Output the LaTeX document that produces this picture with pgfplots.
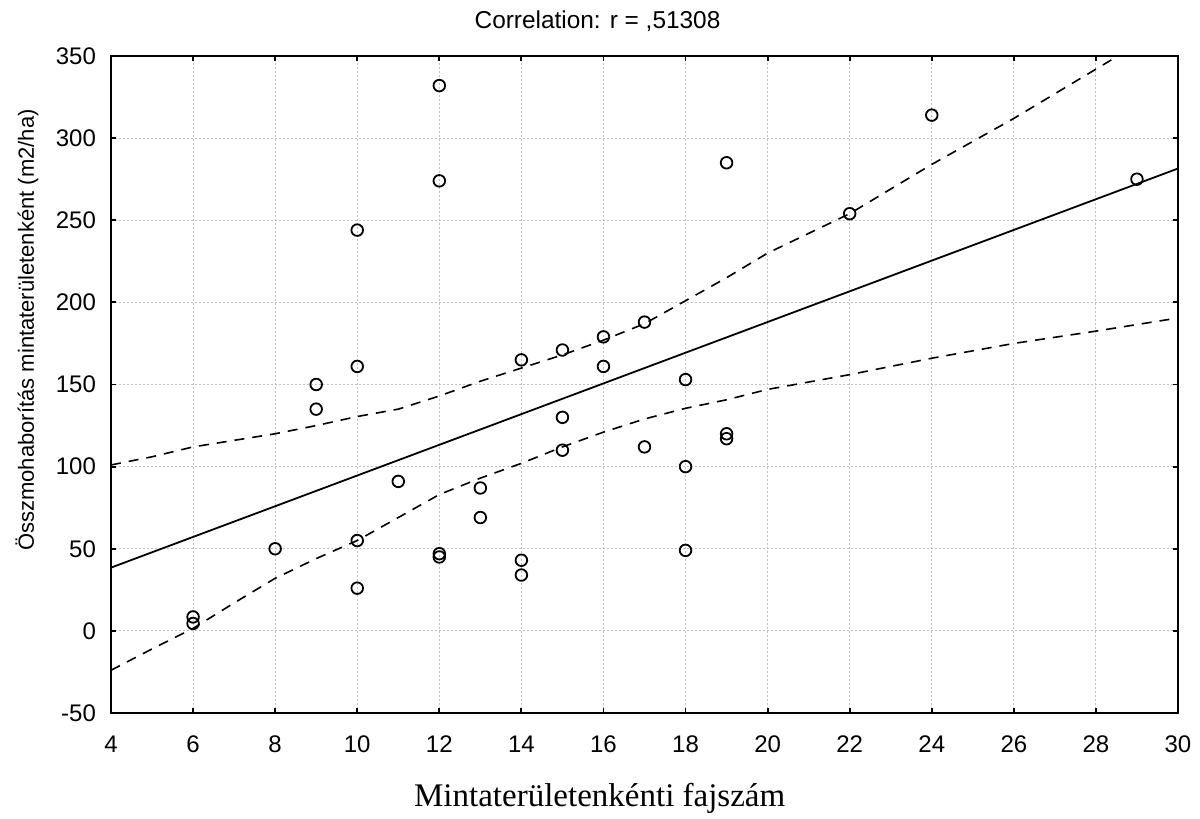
\documentclass[border=0pt]{standalone}
\usepackage{fontspec}
\setmainfont{Liberation Sans}
\newfontfamily\seriffont{Liberation Serif}
\usepackage{pgfplots}
\pgfplotsset{compat=1.18}

\begin{document}
\begin{tikzpicture}
\begin{axis}[
  name=ax,
  scale only axis,
  width=533.5pt, height=328.5pt,
  xmin=4, xmax=30, ymin=-50, ymax=350,
  xtick={4,6,...,30}, ytick={-50,0,...,350},
  tick align=inside, tick pos=both,
  major tick length=2.5pt,
  tick style={black, line width=0.9pt},
  axis line style={black, line width=1pt},
  grid=major,
  major grid style={gray!50, line width=0.5pt, dash pattern=on 1pt off 1pt},
  /pgf/number format/assume math mode=true,
  ticklabel style={font=\fontsize{12}{14}\selectfont},
  xticklabel style={yshift=-8pt},
  yticklabel style={xshift=-4pt},
  title={Correlation: r = ,51308},
  title style={at={(axis description cs:0.456,1)}, anchor=base, yshift=7.5pt,
               font=\fontsize{12.2}{14}\selectfont},
  xlabel={Mintaterületenkénti fajszám},
  xlabel style={at={(axis description cs:0.458,0)}, anchor=center, yshift=-42.5pt,
                font=\seriffont\fontsize{16.5}{19}\selectfont},
  ylabel={Összmohaborítás mintaterületenként (m2/ha)},
  ylabel style={at={(axis description cs:-0.0787,0.583)}, anchor=center,
                font=\fontsize{11}{13}\selectfont},
]

% fitted regression line
\addplot[black, line width=0.9pt] coordinates {(4,38.5) (30,281.5)};

% 95% confidence band, upper
\addplot[black, line width=0.8pt, dash pattern=on 5pt off 4pt] coordinates {
  (4,101) (5,106) (6,112) (7,116) (8,120) (9,125) (10,130.5) (11,135)
  (12,143) (13,152) (14,160) (15,168) (16,177) (17,187) (18,201) (19,215)
  (20,230) (22,254) (24,284) (26,312) (28,342) (30,372)
};

% 95% confidence band, lower
\addplot[black, line width=0.8pt, dash pattern=on 5pt off 4pt] coordinates {
  (4,-24) (5,-11) (6,1.5) (7,17) (8,32) (9,44) (10,55) (11,69)
  (12,83) (13,93) (14,102) (15,112) (16,121) (17,129) (18,135.5) (19,140.7)
  (20,147) (22,156) (24,166) (26,175) (28,182.5) (30,190.5)
};

% observations
\addplot[only marks, mark=o, mark size=2.9pt,
         mark options={black, line width=0.9pt}] coordinates {
  (6,8.5) (6,4.5) (8,50) (9,150) (9,135)
  (10,244) (10,161) (10,55) (10,26) (11,91)
  (12,332) (12,274) (12,47) (12,45) (13,87) (13,69)
  (14,165) (14,43) (14,34) (15,171) (15,130) (15,110)
  (16,179) (16,161) (17,188) (17,112)
  (18,153) (18,100) (18,49) (19,285) (19,120) (19,117)
  (22,254) (24,314) (29,275)
};
\end{axis}
\pgfresetboundingbox
\path ([shift={(-55.5pt,-53pt)}]ax.south west) rectangle ([shift={(11pt,28pt)}]ax.north east);
\end{tikzpicture}
\end{document}
